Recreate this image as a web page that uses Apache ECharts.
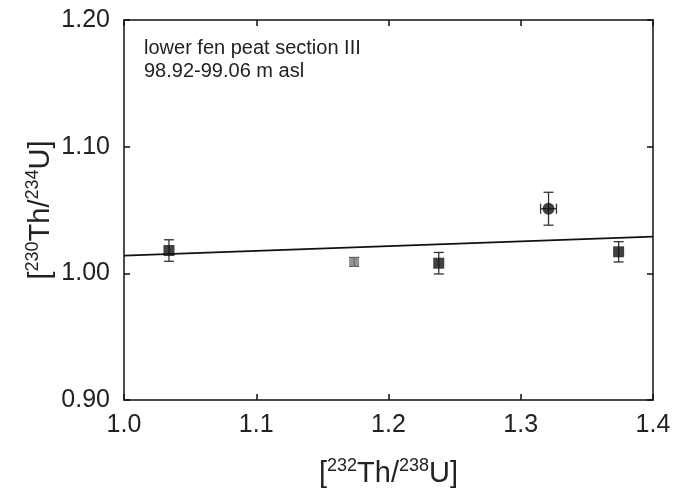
<!DOCTYPE html>
<html>
<head>
<meta charset="utf-8">
<script src="https://cdn.jsdelivr.net/npm/echarts@6/dist/echarts.min.js"></script>
<style>
  html, body { margin: 0; padding: 0; background: #fff; }
  #chart { width: 675px; height: 500px; }
</style>
</head>
<body>
<div id="chart"></div>
<script>
// measured points: [232Th/238U], [230Th/234U], x error, y error
var blackSquares = [[1.034, 1.018], [1.238, 1.008], [1.374, 1.017]];
var squareErrX = [0, 0, 0];
var squareErrY = [0.0085, 0.0085, 0.008];

var blackCircles = [[1.321, 1.051]];
var circleErrX = [0.006];
var circleErrY = [0.013];

var greyPoints = [[1.174, 1.009]];
var greyErrX = [0];
var greyErrY = [0.0035];

// isochron fit line
var fitLine = [[1.0, 1.014], [1.4, 1.029]];

var xTicks = [1.0, 1.1, 1.2, 1.3, 1.4];
var yTicks = [0.90, 1.00, 1.10, 1.20];

var chart = echarts.init(document.getElementById('chart'));

function errData(pts, ex, ey) {
    return pts.map(function (p, i) {
        return [p[0], p[1], ex[i], ey[i]];
    });
}

function renderErr(params, api) {
    var x = api.value(0), y = api.value(1), ex = api.value(2), ey = api.value(3);
    var c = api.coord([x, y]);
    var cap = 5;
    var kids = [];
    var st = { stroke: '#333', lineWidth: 1.3 };
    if (ey > 0) {
        var top = api.coord([x, y + ey]), bot = api.coord([x, y - ey]);
        kids.push({ type: 'line', shape: { x1: c[0], y1: top[1], x2: c[0], y2: bot[1] }, style: st });
        kids.push({ type: 'line', shape: { x1: c[0] - cap, y1: top[1], x2: c[0] + cap, y2: top[1] }, style: st });
        kids.push({ type: 'line', shape: { x1: c[0] - cap, y1: bot[1], x2: c[0] + cap, y2: bot[1] }, style: st });
    }
    if (ex > 0) {
        var l = api.coord([x - ex, y]), r = api.coord([x + ex, y]);
        kids.push({ type: 'line', shape: { x1: l[0], y1: c[1], x2: r[0], y2: c[1] }, style: st });
        kids.push({ type: 'line', shape: { x1: l[0], y1: c[1] - cap, x2: l[0], y2: c[1] + cap }, style: st });
        kids.push({ type: 'line', shape: { x1: r[0], y1: c[1] - cap, x2: r[0], y2: c[1] + cap }, style: st });
    }
    return { type: 'group', children: kids };
}

var allErr = errData(blackSquares, squareErrX, squareErrY)
    .concat(errData(blackCircles, circleErrX, circleErrY))
    .concat(errData(greyPoints, greyErrX, greyErrY));

var nameRich = {
    b: { fontSize: 29, color: '#222', fontFamily: 'Liberation Sans', lineHeight: 34 },
    sup: { fontSize: 18, color: '#222', fontFamily: 'Liberation Sans', verticalAlign: 'top', lineHeight: 34, padding: [0, 0, 12, 0] }
};

var labelStyle = { fontSize: 25, color: '#222', fontFamily: 'Liberation Sans' };
var lineStyle = { color: '#111', width: 1.5 };

option = {
    backgroundColor: '#fff',
    animation: false,
    grid: { left: 124, right: 22, top: 20, bottom: 100 },
    graphic: [{
        type: 'text', left: 144, top: 37,
        style: {
            text: 'lower fen peat section III\n98.92-99.06 m asl',
            font: '20px "Liberation Sans"', fill: '#222', lineHeight: 23
        }
    }],
    xAxis: [{
        type: 'value', min: 1.0, max: 1.4, interval: 0.1,
        name: '{b|[}{sup|232}{b|Th/}{sup|238}{b|U]}',
        nameLocation: 'middle', nameGap: 57, nameMoveOverlap: false,
        nameTextStyle: { rich: nameRich },
        axisLine: { lineStyle: lineStyle },
        axisTick: { inside: true, length: 6, lineStyle: lineStyle },
        axisLabel: Object.assign({ margin: 13, formatter: function (v) { return v.toFixed(1); } }, labelStyle),
        splitLine: { show: false }
    }, {
        type: 'value', min: 1.0, max: 1.4, interval: 0.1, position: 'top',
        axisLine: { lineStyle: lineStyle },
        axisTick: { inside: true, length: 6, lineStyle: lineStyle },
        axisLabel: { show: false }, splitLine: { show: false }
    }],
    yAxis: [{
        type: 'value', min: 0.9, max: 1.2, interval: 0.1,
        name: '{b|[}{sup|230}{b|Th/}{sup|234}{b|U]}',
        nameLocation: 'middle', nameGap: 66, nameRotate: 90, nameMoveOverlap: false,
        nameTextStyle: { rich: nameRich },
        axisLine: { lineStyle: lineStyle },
        axisTick: { inside: true, length: 6, lineStyle: lineStyle },
        axisLabel: Object.assign({ margin: 14, formatter: function (v) { return v.toFixed(2); } }, labelStyle),
        splitLine: { show: false }
    }, {
        type: 'value', min: 0.9, max: 1.2, interval: 0.1, position: 'right',
        axisLine: { lineStyle: lineStyle },
        axisTick: { inside: true, length: 6, lineStyle: lineStyle },
        axisLabel: { show: false }, splitLine: { show: false }
    }],
    series: [
        {
            type: 'line', data: fitLine, symbol: 'none',
            lineStyle: { color: '#111', width: 1.6 }, z: 2
        },
        {
            type: 'custom', data: allErr, renderItem: renderErr, z: 3,
            encode: { x: 0, y: 1 }
        },
        {
            type: 'scatter', data: blackSquares, symbol: 'rect', symbolSize: 11,
            itemStyle: { color: '#111' }, z: 4
        },
        {
            type: 'scatter', data: blackCircles, symbol: 'circle', symbolSize: 12,
            itemStyle: { color: '#111' }, z: 4
        },
        {
            type: 'scatter', data: greyPoints, symbol: 'roundRect', symbolSize: [10, 10],
            itemStyle: { color: '#7a7a7a' }, z: 4
        }
    ]
};

chart.setOption(option);
</script>
</body>
</html>
